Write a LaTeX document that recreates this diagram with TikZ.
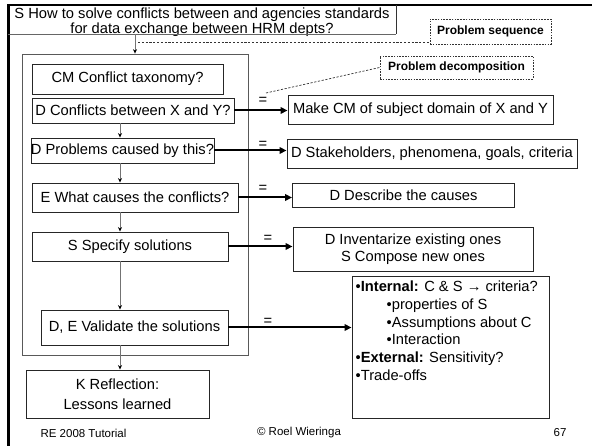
\documentclass[tikz,border=0pt]{standalone}
\usepackage{fontspec}
\setmainfont{Liberation Sans}
\usetikzlibrary{arrows.meta}

\begin{document}
\begin{tikzpicture}[x=1pt,y=-1pt,
  every node/.style={font=\fontsize{14.7}{17}\selectfont, inner sep=0pt},
  box/.style={draw=black!85, line width=0.9pt},
  group/.style={draw=black!65, line width=0.8pt},
  note/.style={draw=black!80, dash pattern=on 1.6pt off 1.2pt, line width=0.8pt,
    font=\fontsize{12}{14}\selectfont\bfseries},
  noteline/.style={draw=black!80, dash pattern=on 2.2pt off 1.6pt, line width=0.7pt},
  flow/.style={draw=black!55, line width=0.8pt, -{Stealth[length=4.5pt,width=4pt,black]}},
  link/.style={line width=2pt, -{Triangle[length=7pt,width=6.5pt]}},
  foot/.style={font=\fontsize{11.5}{13}\selectfont},
  eqsign/.style={font=\fontsize{14.7}{17}\selectfont}
]
\useasboundingbox[fill=white] (0,0) rectangle (592,446);

% slide frame
\draw[line width=2.5pt] (592,5) -- (8.5,5) -- (8.5,446);

% overall question: frame of the box, then its two lines of text
\node[minimum width=388pt, minimum height=29pt] (title) at (202,19.5) {};
\node[align=center, font=\fontsize{14.7}{15}\selectfont] (titletext) at (202,22)
  {S How to solve conflicts between and agencies standards\\for data exchange between HRM depts?};
\draw[black!80, line width=1pt] (title.north east) -- (title.south east);
\draw[black!60, line width=0.8pt] (title.south east) -- (title.south west);

% problem sequence group
\node[group, minimum width=226pt, minimum height=301pt] (cont) at (135,204.5) {};

\node[box, minimum width=191pt, minimum height=30pt] (cm) at (127.5,79) {CM Conflict taxonomy?};
\node[box, minimum width=202pt, minimum height=25pt] (conf) at (133,110.5) {D Conflicts between X and Y?};
\node[box, minimum width=181pt, minimum height=25pt] (prob) at (122.5,150.5) {D Problems caused by this?};
\node[box, minimum width=206pt, minimum height=29pt] (caus) at (135,197.5) {E What causes the conflicts?};
\node[box, minimum width=196pt, minimum height=29pt] (spec) at (130,246.5) {S Specify solutions};
\node[box, minimum width=187pt, minimum height=35pt] (vali) at (134.5,327.5) {D, E Validate the solutions};
\node[box, minimum width=183pt, minimum height=48pt, align=center,
  font=\fontsize{14.7}{20}\selectfont] (refl) at (117.5,394) {K Reflection:\\Lessons learned};

% decompositions
\node[box, minimum width=265pt, minimum height=29pt] (make) at (420.5,109.5) {Make CM of subject domain of X and Y};
\node[box, minimum width=290pt, minimum height=29pt] (stake) at (432,153.5) {D Stakeholders, phenomena, goals, criteria};
\node[box, minimum width=222pt, minimum height=24pt] (desc) at (403.5,195) {D Describe the causes};
\node[box, minimum width=240pt, minimum height=44pt, align=center] (inv) at (413,249) {D Inventarize existing ones\\S Compose new ones};
\node[box, minimum width=197pt, minimum height=142pt] (crit) at (450.5,347) {};
\node[anchor=north west, align=left, font=\fontsize{14.7}{17.7}\selectfont] (crittext) at (355.5,281)
  {•\textbf{Internal:} C \& S → criteria?\\
   \hspace*{31pt}•properties of S\\
   \hspace*{31pt}•Assumptions about C\\
   \hspace*{31pt}•Interaction\\
   •\textbf{External:} Sensitivity?\\
   •Trade-offs};

% annotations
\node[note, minimum width=121pt, minimum height=25pt] (seq) at (490.5,31.5) {Problem sequence};
\node[note, minimum width=153pt, minimum height=23pt] (dec) at (456.5,67.5) {Problem decomposition};
\coordinate (seqend) at (138,42);
\coordinate (decend) at (266,93);
\draw[noteline] (seqend) -- (seqend -| seq.west);
\draw[noteline] (decend) -- (dec.west);

% sequence arrows
\coordinate (axis) at (120,0);
\draw[flow] (cont.north |- title.south) -- (cont.north);
\draw[flow] (conf.south -| axis) -- (prob.north -| axis);
\draw[flow] (prob.south -| axis) -- (caus.north -| axis);
\draw[flow] (caus.south -| axis) -- (spec.north -| axis);
\draw[flow] (spec.south -| axis) -- (vali.north -| axis);
\draw[flow] (vali.south -| axis) -- (refl.north -| axis);

% decomposition arrows
\draw[link] (conf.east) -- (conf.east -| make.west);
\draw[link] (prob.east) -- (prob.east -| stake.west);
\draw[link] (caus.east) -- (caus.east -| desc.west);
\draw[link] (spec.east) -- (spec.east -| inv.west);
\draw[link] (vali.east) -- (vali.east -| crit.west);

\node[eqsign] (eq1) at (263,101) {=};
\node[eqsign] (eq2) at (263,145) {=};
\node[eqsign] (eq3) at (263,189) {=};
\node[eqsign] (eq4) at (268,239) {=};
\node[eqsign] (eq5) at (268,322) {=};

% footer
\node[foot] (f1) at (83.5,433) {RE 2008 Tutorial};
\node[foot] (f2) at (299,433) {© Roel Wieringa};
\node[foot] (f3) at (560,433) {67};
\end{tikzpicture}
\end{document}
